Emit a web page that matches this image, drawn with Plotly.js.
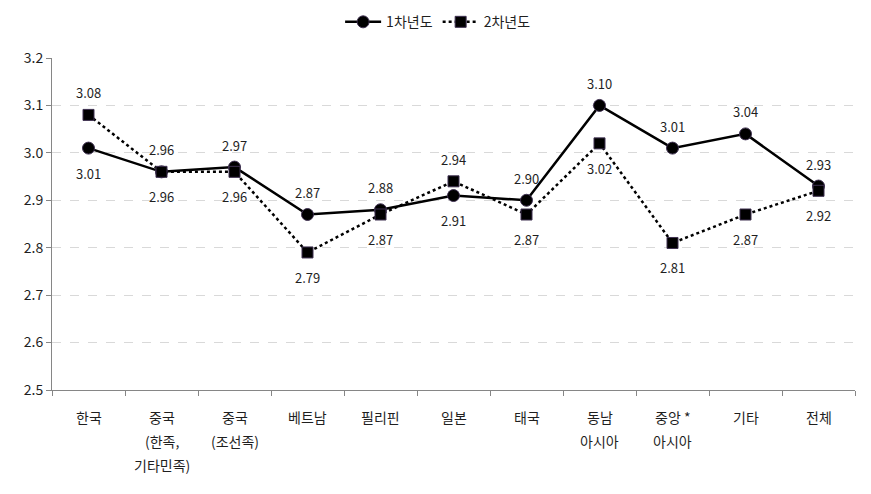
<!DOCTYPE html>
<html>
<head>
<meta charset="utf-8">
<script src="https://cdn.plot.ly/plotly-3.0.1.min.js"></script>
<style>html,body{margin:0;padding:0;background:#fff;}#chart{width:871px;height:494px;}</style>
</head>
<body>
<div id="chart"></div>
<script>
var categories = ["한국", "중국\n(한족,\n기타민족)", "중국\n(조선족)", "베트남", "필리핀", "일본", "태국", "동남\n아시아", "중앙 *\n아시아", "기타", "전체"];
var year1 = [3.01, 2.96, 2.97, 2.87, 2.88, 2.91, 2.90, 3.10, 3.01, 3.04, 2.93];
var year2 = [3.08, 2.96, 2.96, 2.79, 2.87, 2.94, 2.87, 3.02, 2.81, 2.87, 2.92];
var above1 = [false, true, true, true, true, false, true, true, true, true, true];
var above2 = [true, false, false, false, false, true, false, false, false, false, false];
var seriesNames = ["1차년도", "2차년도"];

var font = "'Noto Sans CJK KR', 'Noto Sans', sans-serif";
var textColor = "#1f1f1f";
var xs = categories.map(function(c, i){ return i; });

var traces = [
  {
    x: xs, y: year1, name: seriesNames[0], type: "scatter", mode: "lines+markers",
    line: {color: "#000000", width: 2.5},
    marker: {symbol: "circle", size: 12, color: "#000000", line: {color: "#3f3151", width: 1}},
    cliponaxis: false
  },
  {
    x: xs, y: year2, name: seriesNames[1], type: "scatter", mode: "lines+markers",
    line: {color: "#000000", width: 2.5, dash: "dot"},
    marker: {symbol: "square", size: 11, color: "#000000", line: {color: "#3f3151", width: 1}},
    cliponaxis: false
  }
];

var annotations = [];
function addLabels(vals, above){
  vals.forEach(function(v, i){
    annotations.push({
      x: i, y: v, xref: "x", yref: "y", text: v.toFixed(2), showarrow: false,
      xanchor: "center", yanchor: "middle", yshift: above[i] ? 22 : -25,
      font: {family: font, size: 13, color: textColor}
    });
  });
}
addLabels(year1, above1);
addLabels(year2, above2);

categories.forEach(function(c, i){
  c.split("\n").forEach(function(line, j){
    annotations.push({
      x: i, y: 0, xref: "x", yref: "paper", text: line, showarrow: false,
      yanchor: "middle", xanchor: "center", yshift: -27 - 24*j,
      font: {family: font, size: 14, color: textColor}
    });
  });
});

var layout = {
  width: 871, height: 494,
  margin: {l: 52, r: 16, t: 58, b: 104},
  paper_bgcolor: "#ffffff", plot_bgcolor: "#ffffff",
  font: {family: font, size: 14, color: textColor},
  showlegend: true,
  legend: {orientation: "h", xref: "container", yref: "container", x: 0.503, xanchor: "center", y: 0.955, yanchor: "middle",
           font: {family: font, size: 14, color: textColor}, itemwidth: 36, tracegroupgap: 0},
  xaxis: {
    range: [-0.5, 10.5], tickmode: "array", tickvals: [-0.5,0.5,1.5,2.5,3.5,4.5,5.5,6.5,7.5,8.5,9.5,10.5],
    ticktext: ["","","","","","","","","","","",""],
    showgrid: false, zeroline: false, showline: true, linecolor: "#868686", linewidth: 1,
    ticks: "outside", ticklen: 5, tickcolor: "#868686", fixedrange: true
  },
  yaxis: {
    range: [2.5, 3.2], dtick: 0.1, tick0: 2.5, tickformat: ".1f",
    showgrid: true, gridcolor: "#d9d9d9", griddash: "dash", gridwidth: 1,
    zeroline: false, showline: true, linecolor: "#868686", linewidth: 1,
    ticks: "outside", ticklen: 5, tickcolor: "#868686",
    tickfont: {family: font, size: 14, color: textColor}, fixedrange: true
  },
  annotations: annotations
};

Plotly.newPlot("chart", traces, layout, {displayModeBar: false, staticPlot: true});
</script>
</body>
</html>
